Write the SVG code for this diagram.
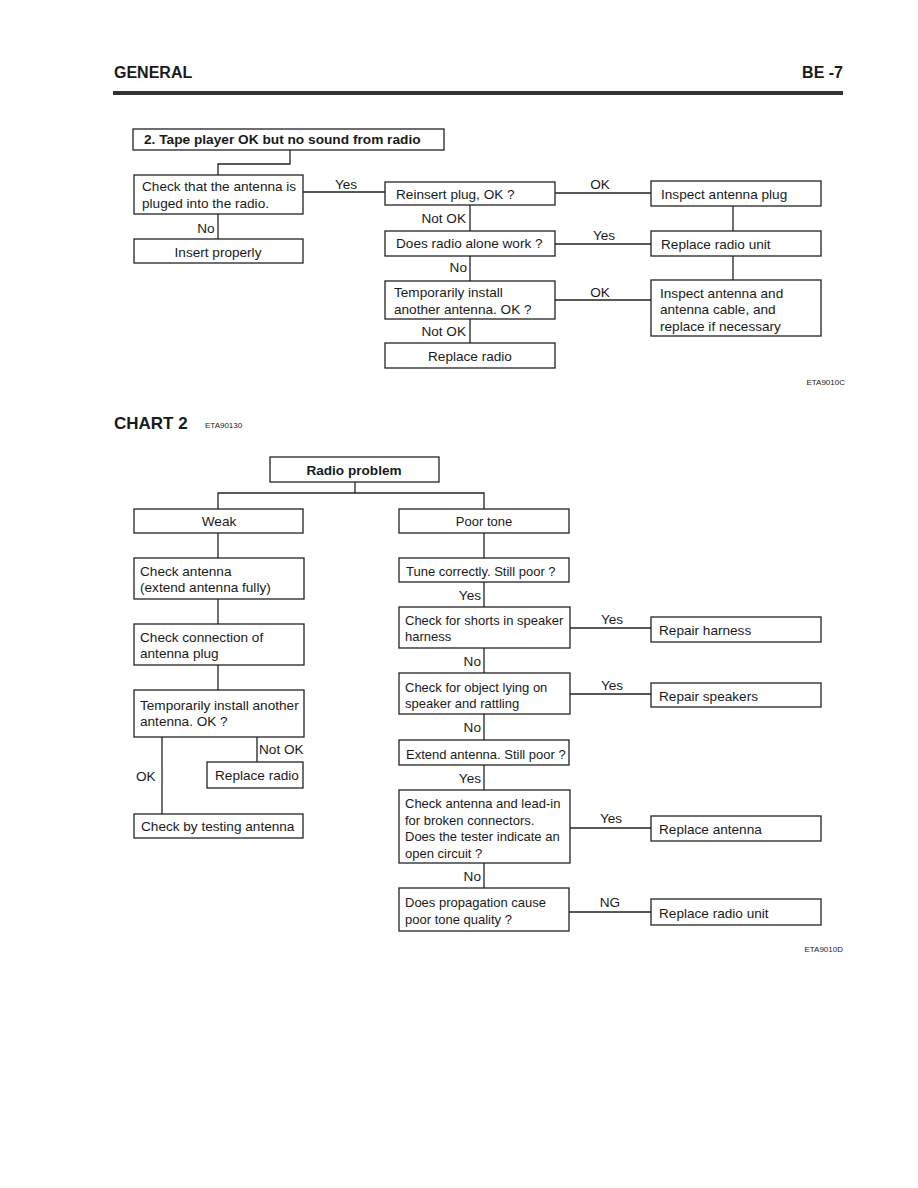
<svg xmlns="http://www.w3.org/2000/svg" width="918" height="1188" viewBox="0 0 918 1188">
<style>
.box{fill:#fff;stroke:#222;stroke-width:1.3}
.c line,.c path{stroke:#222;stroke-width:1.3;fill:none}
text{font-family:"Liberation Sans",Arial,sans-serif;font-size:13.6px;fill:#1a1a1a}
.n text{font-size:13px}
.m{text-anchor:middle}
.e{text-anchor:end}
.b{font-weight:bold}
.s{font-size:8px}
</style>
<rect width="918" height="1188" fill="#fff"/>
<text x="114" y="78" class="b" style="font-size:16px">GENERAL</text>
<text x="843" y="78" class="b e" style="font-size:16px">BE -7</text>
<rect x="113" y="91" width="730" height="4" fill="#333"/>

<!-- Chart 1 connectors -->
<g class="c">
<path d="M290 150V164H218V175"/>
<line x1="303" y1="192" x2="385" y2="192"/>
<line x1="218" y1="214" x2="218" y2="239"/>
<line x1="555" y1="193" x2="651" y2="193"/>
<line x1="470" y1="205" x2="470" y2="231"/>
<line x1="555" y1="244" x2="651" y2="244"/>
<line x1="733" y1="206" x2="733" y2="231"/>
<line x1="733" y1="256" x2="733" y2="280"/>
<line x1="470" y1="256" x2="470" y2="281"/>
<line x1="555" y1="300" x2="651" y2="300"/>
<line x1="470" y1="319" x2="470" y2="343"/>
</g>
<g>
<text x="346" y="189" class="m">Yes</text>
<text x="206" y="233" class="m">No</text>
<text x="600" y="189" class="m">OK</text>
<text x="466" y="223" class="e">Not OK</text>
<text x="604" y="240" class="m">Yes</text>
<text x="467" y="272" class="e">No</text>
<text x="600" y="297" class="m">OK</text>
<text x="466" y="336" class="e">Not OK</text>
</g>

<g id="t1"><rect class="box" x="133" y="129" width="311" height="21"/><text x="144" y="144" class="b" style="font-size:13.7px">2. Tape player OK but no sound from radio</text></g>
<g id="checkPlug"><rect class="box" x="134" y="175" width="169" height="39"/><text x="142" y="191">Check that the antenna is</text><text x="142" y="208">pluged into the radio.</text></g>
<g id="insert"><rect class="box" x="134" y="239" width="169" height="24"/><text x="218" y="257" class="m">Insert properly</text></g>
<g id="reinsert"><rect class="box" x="385" y="182" width="170" height="23"/><text x="396" y="199">Reinsert plug, OK ?</text></g>
<g id="inspPlug"><rect class="box" x="651" y="181" width="170" height="25"/><text x="661" y="199">Inspect antenna plug</text></g>
<g id="alone"><rect class="box" x="385" y="231" width="170" height="25"/><text x="396" y="248">Does radio alone work ?</text></g>
<g id="replUnit1"><rect class="box" x="651" y="231" width="170" height="25"/><text x="661" y="249">Replace radio unit</text></g>
<g id="tempInst1"><rect class="box" x="385" y="281" width="170" height="38"/><text x="394" y="297">Temporarily install</text><text x="394" y="314">another antenna. OK ?</text></g>
<g id="inspCable"><rect class="box" x="651" y="280" width="170" height="56"/><text x="660" y="298">Inspect antenna and</text><text x="660" y="314">antenna cable, and</text><text x="660" y="331">replace if necessary</text></g>
<g id="replRadio1"><rect class="box" x="385" y="343" width="170" height="25"/><text x="470" y="361" class="m">Replace radio</text></g>
<text x="845" y="385" class="s e">ETA9010C</text>

<!-- Chart 2 -->
<text x="114" y="429" class="b" style="font-size:17px">CHART 2</text>
<text x="205" y="428" class="s">ETA90130</text>

<g class="c">
<path d="M355 482V493"/>
<path d="M218 509V493H484V509"/>
<line x1="218" y1="533" x2="218" y2="558"/>
<line x1="218" y1="599" x2="218" y2="624"/>
<line x1="218" y1="665" x2="218" y2="690"/>
<line x1="257" y1="737" x2="257" y2="762"/>
<line x1="162" y1="737" x2="162" y2="814"/>
<line x1="484" y1="533" x2="484" y2="558"/>
<line x1="484" y1="582" x2="484" y2="607"/>
<line x1="570" y1="628" x2="651" y2="628"/>
<line x1="484" y1="648" x2="484" y2="673"/>
<line x1="570" y1="694" x2="651" y2="694"/>
<line x1="484" y1="714" x2="484" y2="740"/>
<line x1="484" y1="765" x2="484" y2="790"/>
<line x1="570" y1="828" x2="651" y2="828"/>
<line x1="484" y1="863" x2="484" y2="888"/>
<line x1="569" y1="912" x2="651" y2="912"/>
</g>
<g>
<text x="259" y="754">Not OK</text>
<text x="136" y="781">OK</text>
<text x="481" y="600" class="e">Yes</text>
<text x="612" y="624" class="m">Yes</text>
<text x="481" y="666" class="e">No</text>
<text x="612" y="690" class="m">Yes</text>
<text x="481" y="732" class="e">No</text>
<text x="481" y="783" class="e">Yes</text>
<text x="611" y="823" class="m">Yes</text>
<text x="481" y="881" class="e">No</text>
<text x="610" y="907" class="m">NG</text>
</g>

<g id="radioProblem"><rect class="box" x="270" y="457" width="169" height="25"/><text x="354" y="475" class="m b">Radio problem</text></g>
<g id="weak"><rect class="box" x="134" y="509" width="169" height="24"/><text x="219" y="526" class="m">Weak</text></g>
<g id="checkAnt"><rect class="box" x="134" y="558" width="170" height="41"/><text x="140" y="576">Check antenna</text><text x="140" y="592">(extend antenna fully)</text></g>
<g id="checkConn"><rect class="box" x="134" y="624" width="170" height="41"/><text x="140" y="642">Check connection of</text><text x="140" y="658">antenna plug</text></g>
<g id="tempInst2"><rect class="box" x="134" y="690" width="170" height="47"/><text x="140" y="710">Temporarily install another</text><text x="140" y="726">antenna. OK ?</text></g>
<g id="replRadio2"><rect class="box" x="207" y="762" width="96" height="26"/><text x="215" y="780">Replace radio</text></g>
<g id="testAnt"><rect class="box" x="134" y="814" width="169" height="24"/><text x="141" y="831">Check by testing antenna</text></g>
<g id="poorTone" class="n"><rect class="box" x="399" y="509" width="170" height="24"/><text x="484" y="526" class="m">Poor tone</text></g>
<g id="tune" class="n"><rect class="box" x="399" y="558" width="170" height="24"/><text x="406" y="576">Tune correctly. Still poor ?</text></g>
<g id="shorts" class="n"><rect class="box" x="399" y="607" width="171" height="41"/><text x="405" y="625">Check for shorts in speaker</text><text x="405" y="641">harness</text></g>
<g id="repHarness"><rect class="box" x="651" y="617" width="170" height="25"/><text x="659" y="635">Repair harness</text></g>
<g id="object" class="n"><rect class="box" x="399" y="673" width="171" height="41"/><text x="405" y="692">Check for object lying on</text><text x="405" y="708">speaker and rattling</text></g>
<g id="repSpeakers"><rect class="box" x="651" y="683" width="170" height="24"/><text x="659" y="701">Repair speakers</text></g>
<g id="extend" class="n"><rect class="box" x="399" y="740" width="170" height="25"/><text x="406" y="759">Extend antenna. Still poor ?</text></g>
<g id="leadIn" class="n"><rect class="box" x="399" y="790" width="171" height="73"/><text x="405" y="808">Check antenna and lead-in</text><text x="405" y="825">for broken connectors.</text><text x="405" y="841">Does the tester indicate an</text><text x="405" y="858">open circuit ?</text></g>
<g id="replAnt"><rect class="box" x="651" y="816" width="170" height="25"/><text x="659" y="834">Replace antenna</text></g>
<g id="propagation" class="n"><rect class="box" x="399" y="888" width="170" height="43"/><text x="405" y="907">Does propagation cause</text><text x="405" y="924">poor tone quality ?</text></g>
<g id="replUnit2"><rect class="box" x="651" y="899" width="170" height="26"/><text x="659" y="918">Replace radio unit</text></g>
<text x="843" y="952" class="s e">ETA9010D</text>
</svg>
